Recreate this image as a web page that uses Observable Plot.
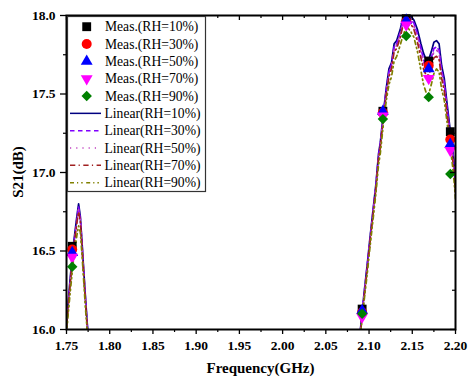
<!DOCTYPE html>
<html>
<head>
<meta charset="utf-8">
<script src="https://cdn.jsdelivr.net/npm/d3@7"></script>
<script src="https://cdn.jsdelivr.net/npm/@observablehq/plot@0.6"></script>
<style>
  html, body { margin: 0; padding: 0; background: #fff; }
  #chart svg { display: block; }
</style>
</head>
<body>
<div id="chart"></div>
<script>
// ---- data ----
const traceFreq = [
  1.750,1.752,1.754,1.756,1.758,1.760,1.762,1.764,1.766,1.768,1.770,1.772,1.774,1.776,1.780,
  2.085,2.090,2.094,2.098,2.101,2.104,2.108,2.111,2.113,2.117,2.120,2.123,2.126,2.129,2.132,2.136,2.139,2.142,2.145,2.148,2.152,2.156,2.160,2.163,2.166,2.169,2.172,2.175,2.178,2.181,2.184,2.187,2.190,2.193,2.196,2.198,2.200
];
const lin10 = [
  16.04,16.18,16.31,16.43,16.54,16.63,16.72,16.80,16.72,16.55,16.37,16.20,16.04,15.90,15.50,
  15.50,16.00,16.22,16.42,16.58,16.73,16.93,17.12,17.19,17.40,17.54,17.66,17.70,17.82,17.84,17.91,17.98,18.01,18.02,18.00,17.97,17.91,17.82,17.76,17.72,17.72,17.77,17.83,17.84,17.82,17.68,17.60,17.45,17.31,17.18,17.08,16.92
];
const lin30 = [
  16.02,16.16,16.29,16.41,16.52,16.61,16.70,16.78,16.71,16.54,16.36,16.19,16.03,15.90,15.50,
  15.50,15.99,16.21,16.41,16.57,16.72,16.92,17.11,17.18,17.39,17.53,17.64,17.69,17.80,17.82,17.89,17.96,17.99,18.00,17.98,17.95,17.88,17.79,17.72,17.68,17.68,17.73,17.79,17.80,17.78,17.65,17.57,17.42,17.29,17.16,17.06,16.90
];
const lin50 = [
  16.01,16.15,16.28,16.40,16.51,16.60,16.69,16.77,16.70,16.53,16.35,16.18,16.02,15.90,15.50,
  15.50,15.99,16.20,16.40,16.56,16.71,16.91,17.10,17.17,17.38,17.52,17.63,17.68,17.79,17.81,17.88,17.95,17.98,17.99,17.97,17.93,17.86,17.77,17.70,17.66,17.66,17.71,17.77,17.78,17.76,17.63,17.55,17.40,17.27,17.14,17.04,16.88
];
const lin70 = [
  16.00,16.14,16.27,16.39,16.50,16.59,16.68,16.75,16.69,16.52,16.34,16.17,16.01,15.90,15.50,
  15.50,15.98,16.19,16.39,16.55,16.70,16.90,17.09,17.16,17.37,17.50,17.61,17.66,17.77,17.79,17.86,17.93,17.96,17.97,17.95,17.91,17.83,17.73,17.66,17.62,17.62,17.67,17.73,17.74,17.72,17.60,17.52,17.38,17.25,17.12,17.02,16.87
];
const lin90 = [
  15.97,16.10,16.22,16.33,16.44,16.52,16.60,16.66,16.62,16.47,16.30,16.13,15.99,15.88,15.50,
  15.50,15.96,16.17,16.36,16.52,16.67,16.87,17.05,17.12,17.33,17.46,17.56,17.61,17.71,17.74,17.81,17.87,17.91,17.92,17.90,17.86,17.77,17.65,17.56,17.51,17.50,17.56,17.63,17.66,17.64,17.53,17.46,17.33,17.20,17.07,16.97,16.83
];

const measFreq = [1.7566, 2.092, 2.116, 2.143, 2.169, 2.194];
const meas10 = [16.53, 16.13, 17.39, 17.98, 17.71, 17.26];
const meas30 = [16.51, 16.11, 17.38, 17.96, 17.68, 17.21];
const meas50 = [16.49, 16.12, 17.39, 17.97, 17.66, 17.18];
const meas70 = [16.46, 16.08, 17.36, 17.94, 17.60, 17.14];
const meas90 = [16.40, 16.10, 17.34, 17.87, 17.48, 16.99];

const measLabels = ["Meas.(RH=10%)","Meas.(RH=30%)","Meas.(RH=50%)","Meas.(RH=70%)","Meas.(RH=90%)"];
const linLabels = ["Linear(RH=10%)","Linear(RH=30%)","Linear(RH=50%)","Linear(RH=70%)","Linear(RH=90%)"];

const xMajor = [1.75,1.80,1.85,1.90,1.95,2.00,2.05,2.10,2.15,2.20];
const xMinor = [1.775,1.825,1.875,1.925,1.975,2.025,2.075,2.125,2.175];
const yMajor = [16.0,16.5,17.0,17.5,18.0];
const yMinor = [16.25,16.75,17.25,17.75];

// ---- styles ----
const invTriangle = {
  draw(context, size) {
    const y = -Math.sqrt(size / (Math.sqrt(3) * 3));
    context.moveTo(0, -2 * y);
    context.lineTo(-Math.sqrt(3) * y, y);
    context.lineTo(Math.sqrt(3) * y, y);
    context.closePath();
  }
};
const measStyles = [
  {fill: "#000000", symbol: d3.symbolSquare, r: 5},
  {fill: "#ff0000", symbol: d3.symbolCircle, r: 5},
  {fill: "#0000ff", symbol: d3.symbolTriangle, r: 4.4},
  {fill: "#ff00ff", symbol: invTriangle, r: 4.4},
  {fill: "#008000", symbol: d3.symbolDiamond2, r: 4.7}
];
const linStyles = [
  {stroke: "#000080", dash: null},
  {stroke: "#8000ff", dash: "4.5,3.5"},
  {stroke: "#c040c0", dash: "1.2,5"},
  {stroke: "#a02020", dash: "5.3,3.3,1.2,3.5"},
  {stroke: "#808000", dash: "4,3,1.2,3,1.5,3.5"}
];

const linSeries = [lin10, lin30, lin50, lin70, lin90];
const measSeries = [meas10, meas30, meas50, meas70, meas90];

const W = 470, H = 378, mL = 66, mR = 15, mT = 15, mB = 49;
const plotW = W - mL - mR, plotH = H - mT - mB;
const font = "'Liberation Serif', 'Times New Roman', serif";

const lineMarks = linSeries.map((vals, i) =>
  Plot.line(traceFreq.map((f, j) => ({f, v: vals[j]})), {
    x: "f", y: "v", stroke: linStyles[i].stroke, strokeWidth: 1.7,
    strokeDasharray: linStyles[i].dash, clip: true
  })
);
const dotMarks = measSeries.map((vals, i) =>
  Plot.dot(measFreq.map((f, j) => ({f, v: vals[j]})), {
    x: "f", y: "v", fill: measStyles[i].fill, stroke: "none",
    symbol: () => measStyles[i].symbol, r: measStyles[i].r
  })
);

const svg = Plot.plot({
  width: W, height: H,
  marginLeft: mL, marginRight: mR, marginTop: mT, marginBottom: mB,
  style: {fontFamily: font, fontSize: "13.5px", background: "#fff", color: "#000"},
  x: {domain: [1.75, 2.20]},
  y: {domain: [16, 18]},
  symbol: {type: "identity"},
  marks: [
    ...lineMarks,
    ...dotMarks,
    Plot.axisX(xMajor, {tickSize: 5, tickPadding: 6, tickFormat: d3.format(".2f"), label: null, strokeWidth: 1.3}),
    Plot.axisX(xMinor, {tickSize: 3, tickFormat: () => "", label: null, strokeWidth: 1.2}),
    Plot.axisY(yMajor, {tickSize: 6, tickPadding: 5, tickFormat: d3.format(".1f"), label: null, strokeWidth: 1.3}),
    Plot.axisY(yMinor, {tickSize: 3, tickFormat: () => "", label: null, strokeWidth: 1.2}),
    Plot.tickX(xMajor, {x: d => d, insetBottom: plotH - 5, strokeWidth: 1.3}),
    Plot.tickX(xMinor, {x: d => d, insetBottom: plotH - 3, strokeWidth: 1.2}),
    Plot.tickY(yMajor, {y: d => d, insetLeft: plotW - 5, strokeWidth: 1.3}),
    Plot.tickY(yMinor, {y: d => d, insetLeft: plotW - 3, strokeWidth: 1.2}),
    Plot.frame({stroke: "#000", strokeWidth: 2})
  ]
});

const s = d3.select(svg);
// bold tick labels
s.selectAll("text").attr("font-weight", "bold").style("font-weight", "bold");

// axis titles
s.append("text").attr("x", mL + plotW / 2).attr("y", 373)
  .attr("text-anchor", "middle").attr("font-family", font)
  .attr("font-weight", "bold").attr("font-size", 15).text("Frequency(GHz)");
s.append("text").attr("transform", `translate(23,${mT + plotH / 2}) rotate(-90)`)
  .attr("text-anchor", "middle").attr("font-family", font)
  .attr("font-weight", "bold").attr("font-size", 15).text("S21(dB)");

// legend
const lg = s.append("g").attr("text-anchor", "start").attr("font-weight", "normal");
lg.append("rect").attr("x", 67.5).attr("y", 16.5).attr("width", 138).attr("height", 175)
  .attr("fill", "#fff").attr("stroke", "#333").attr("stroke-width", 1.2);
const rowY = i => 26.7 + i * 17.33;
measLabels.forEach((lab, i) => {
  const st = measStyles[i];
  lg.append("path").attr("d", d3.symbol(st.symbol, Math.PI * st.r * st.r)())
    .attr("transform", `translate(86.7,${rowY(i)})`).attr("fill", st.fill);
  lg.append("text").attr("x", 105).attr("y", rowY(i)).attr("dy", "0.35em")
    .attr("text-anchor", "start").attr("font-weight", "normal")
    .attr("font-family", font).attr("font-size", 13.6).text(lab);
});
linLabels.forEach((lab, k) => {
  const i = k + 5, st = linStyles[k];
  lg.append("line").attr("x1", 70).attr("x2", 101).attr("y1", rowY(i)).attr("y2", rowY(i))
    .attr("stroke", st.stroke).attr("stroke-width", 1.5)
    .attr("stroke-dasharray", st.dash);
  lg.append("text").attr("x", 104.5).attr("y", rowY(i)).attr("dy", "0.35em")
    .attr("text-anchor", "start").attr("font-weight", "normal")
    .attr("font-family", font).attr("font-size", 13.6).text(lab);
});

document.getElementById("chart").appendChild(svg);
</script>
</body>
</html>
